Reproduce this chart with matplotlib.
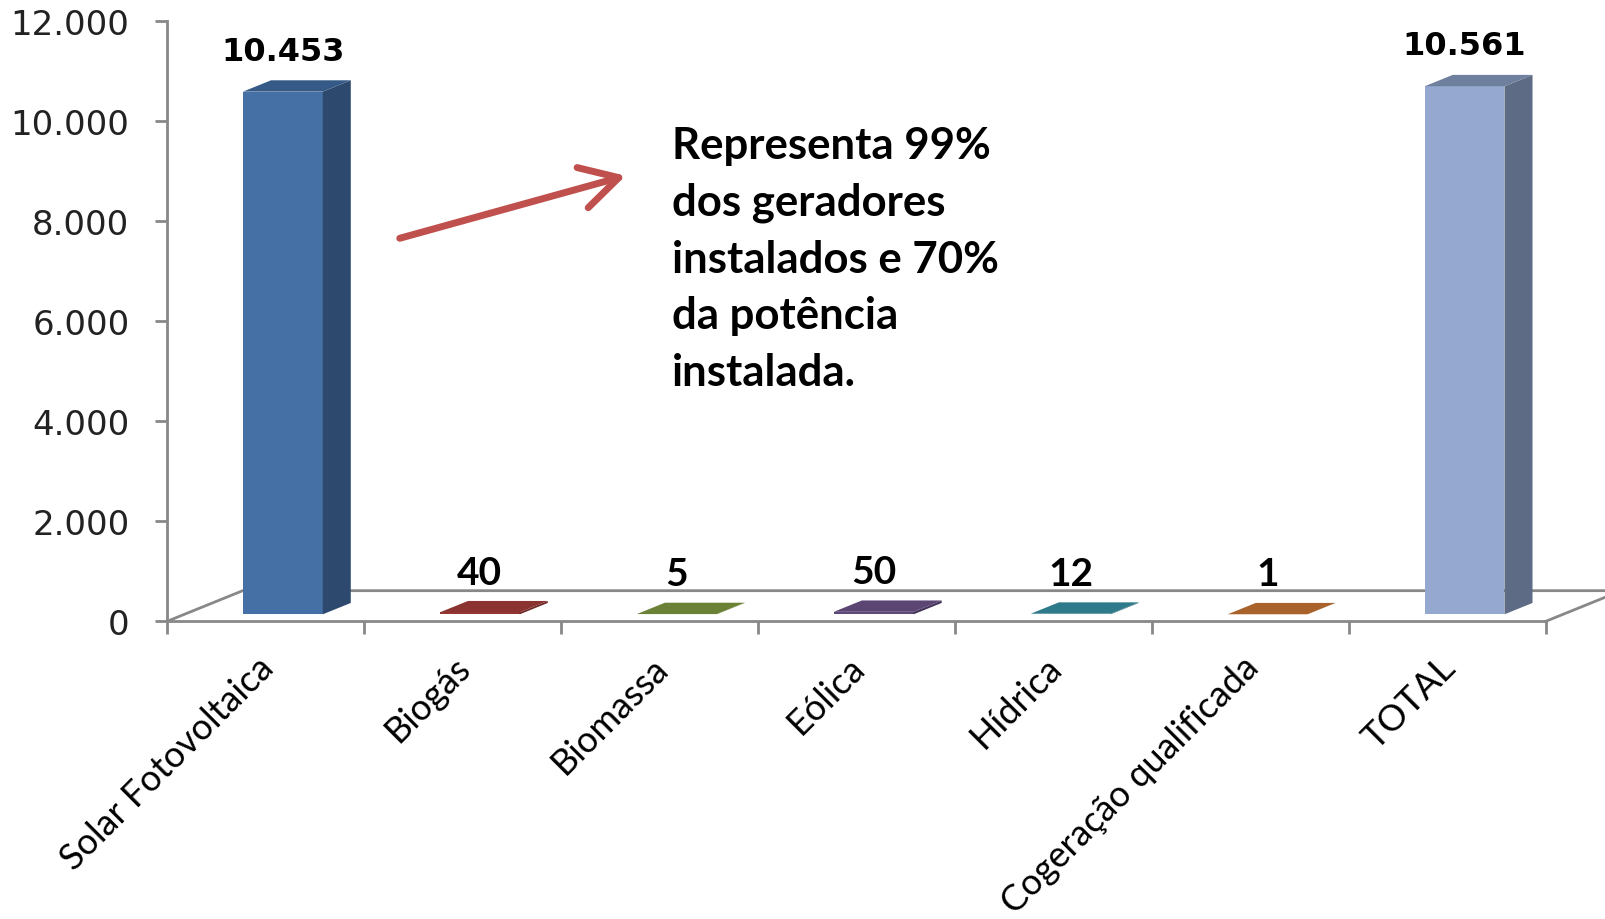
import matplotlib
matplotlib.use('Agg')
import matplotlib.pyplot as plt
import matplotlib.transforms as mtransforms
from matplotlib.patches import Polygon, FancyArrowPatch

# Dados do gráfico
categorias = ['Solar Fotovoltaica', 'Biogás', 'Biomassa', 'Eólica', 'Hídrica',
              'Cogeração qualificada', 'TOTAL']
valores = [10453, 40, 5, 50, 12, 1, 10561]
rotulos = ['10.453', '40', '5', '50', '12', '1', '10.561']
yticks = [0, 2000, 4000, 6000, 8000, 10000, 12000]
yticklabels = ['0', '2.000', '4.000', '6.000', '8.000', '10.000', '12.000']

# Cores (frente, lateral, topo)
cor_frente = ['#4470A5', '#943634', '#76923C', '#5F497A', '#31849B', '#B5652A', '#95A9D0']
cor_lado = ['#2D4A6E', '#6E2826', '#566B2C', '#45355A', '#245F70', '#84491F', '#5D6B85']
cor_topo = ['#355A87', '#8A3330', '#6A8136', '#5A4573', '#2E7A8A', '#A8622A', '#6F7F9E']

cinza = '#888888'

fig = plt.figure(figsize=(16.05, 9.2), dpi=100)
ax = fig.add_axes([0.104, 0.3235, 0.859, 0.6522])
ax.set_xlim(-0.5, 6.5)
ax.set_ylim(0, 12000)

# profundidade do piso 3D (em unidades de dados)
DX, DY = 0.385, 614
f0, f1 = 0.23, 0.60
larg = 0.405

# piso (linhas de fundo e laterais)
ax.plot([-0.5, -0.5 + DX, 6.5 + DX, 6.5], [0, DY, DY, 0],
        color=cinza, lw=2, clip_on=False, zorder=1)

# barras em "3D"
d = f1 - f0
for i, v in enumerate(valores):
    xc = i + f0 * DX
    x0 = xc - larg / 2
    x1 = xc + larg / 2
    b = f0 * DY
    frente = Polygon([(x0, b), (x1, b), (x1, b + v), (x0, b + v)],
                     closed=True, facecolor=cor_frente[i], edgecolor='none', zorder=3)
    lado = Polygon([(x1, b), (x1 + d * DX, b + d * DY), (x1 + d * DX, b + v + d * DY), (x1, b + v)],
                   closed=True, facecolor=cor_lado[i], edgecolor='none', zorder=3)
    topo = Polygon([(x0, b + v), (x1, b + v), (x1 + d * DX, b + v + d * DY), (x0 + d * DX, b + v + d * DY)],
                   closed=True, facecolor=cor_topo[i], edgecolor='none', zorder=3)
    for p in (frente, lado, topo):
        p.set_clip_on(False)
        ax.add_patch(p)

    if v > 1000:
        fonte = dict(family='DejaVu Sans', fontsize=23, fontweight='bold')
    else:
        fonte = dict(family='Lato', fontsize=28, fontweight='bold')
    ax.annotate(rotulos[i], (xc, b + v), xytext=(0, 29), textcoords='offset points',
                ha='center', va='center', color='black', **fonte)

# eixos
for s in ['top', 'right']:
    ax.spines[s].set_visible(False)
for s in ['left', 'bottom']:
    ax.spines[s].set_color(cinza)
    ax.spines[s].set_linewidth(2)

ax.set_yticks(yticks)
ax.set_yticklabels(yticklabels, family='DejaVu Sans', fontsize=24.5, color='#222222')
ax.tick_params(axis='y', length=9, width=2, color=cinza, pad=18)

ax.set_xticks(range(len(categorias)))
ax.set_xticklabels(categorias, rotation=45, ha='right', va='center',
                   rotation_mode='anchor', family='Lato', fontsize=26, color='black')
ax.set_xticks([i - 0.5 for i in range(len(categorias) + 1)], minor=True)
ax.tick_params(axis='x', which='major', length=0, pad=29)
ax.tick_params(axis='x', which='minor', length=9, width=2, color=cinza)
desloc = mtransforms.ScaledTranslation(3 / 100, 0, fig.dpi_scale_trans)
for lbl in ax.get_xticklabels():
    lbl.set_transform(lbl.get_transform() + desloc)

# seta e texto explicativo
fig.patches.append(FancyArrowPatch(
    (0.2474, 0.7391), (0.3915, 0.8087), transform=fig.transFigure,
    arrowstyle='->,head_length=0.9,head_width=0.5', mutation_scale=30,
    color='#C0504D', lw=5))

fig.text(0.4187, 0.863, 'Representa 99%\ndos geradores\ninstalados e 70%\nda potência\ninstalada.',
         family='Lato', fontsize=31.5, fontweight='bold', va='top', ha='left',
         linespacing=1.5, color='black')

fig.savefig('out.png', dpi=100)
